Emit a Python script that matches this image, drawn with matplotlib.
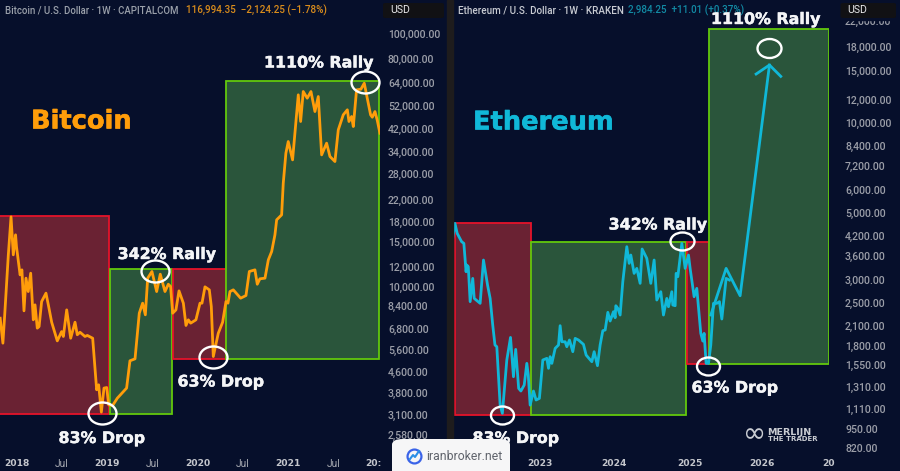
import matplotlib
matplotlib.use("Agg")
import matplotlib.pyplot as plt
import matplotlib.patheffects as pe
from matplotlib.patches import Rectangle, FancyBboxPatch
from matplotlib.path import Path
from matplotlib.transforms import Affine2D

W, H = 900, 471
BG = "#060f2b"
TICK = "#9b9ea8"
FONT = "Roboto"
BOLD = "DejaVu Sans"

btc_years = [2017.82,2017.85,2017.87,2017.91,2017.94,2017.965,2017.99,2018.00,2018.04,2018.06,2018.083,2018.105,2018.13,2018.157,2018.186,2018.205,2018.23,2018.25,2018.278,2018.326,2018.352,2018.389,2018.451,2018.499,2018.518,2018.555,2018.599,2018.647,2018.672,2018.702,2018.757,2018.783,2018.842,2018.886,2018.908,2018.938,2018.967,2018.997,2019.019,2019.063,2019.114,2019.217,2019.254,2019.310,2019.357,2019.394,2019.424,2019.450,2019.497,2019.549,2019.589,2019.641,2019.678,2019.703,2019.726,2019.762,2019.796,2019.844,2019.873,2019.899,2019.925,2019.983,2020.028,2020.05,2020.083,2020.131,2020.153,2020.175,2020.23,2020.278,2020.315,2020.337,2020.359,2020.396,2020.477,2020.536,2020.573,2020.635,2020.661,2020.69,2020.746,2020.783,2020.82,2020.856,2020.875,2020.93,2020.948,2020.977,2021.003,2021.051,2021.114,2021.14,2021.169,2021.213,2021.254,2021.298,2021.335,2021.372,2021.427,2021.464,2021.519,2021.556,2021.611,2021.656,2021.674,2021.703,2021.722,2021.758,2021.806,2021.843,2021.913,2021.932,2021.961,2021.987,2022.016]
btc_prices = [7490,5965,7725,13350,18880,13350,16020,14400,11120,11640,8010,10790,9550,11290,7380,8460,6840,6940,8720,9410,8460,7220,6090,6630,6340,8080,6240,7220,6440,6590,6340,6400,6240,3900,4080,3180,3960,3980,3400,3380,3610,3960,5080,5170,7840,8590,7725,10790,11470,9550,11190,9550,10210,10000,7840,8080,9610,8590,7010,7380,7160,7380,8590,8590,9970,9700,8330,5280,6530,7220,8720,8590,9550,9700,8990,9210,11470,11640,10210,10730,10790,12750,13760,16020,18370,19220,25660,33730,37520,31740,57440,45040,59200,55710,59200,49320,56560,33220,36960,32730,31260,41740,47860,50110,45040,47130,43020,60100,60460,63870,47860,46830,49320,45500,40480]

eth_years = [2021.81,2021.85,2021.88,2021.94,2021.97,2022.00,2022.01,2022.03,2022.055,2022.09,2022.11,2022.19,2022.235,2022.29,2022.325,2022.36,2022.39,2022.415,2022.46,2022.49,2022.55,2022.60,2022.64,2022.67,2022.71,2022.74,2022.785,2022.82,2022.84,2022.865,2022.91,2022.945,2022.99,2023.036,2023.09,2023.113,2023.135,2023.158,2023.203,2023.248,2023.27,2023.293,2023.338,2023.36,2023.396,2023.441,2023.473,2023.518,2023.585,2023.621,2023.698,2023.729,2023.774,2023.81,2023.846,2023.878,2023.914,2023.945,2023.99,2024.013,2024.022,2024.049,2024.08,2024.116,2024.17,2024.202,2024.224,2024.269,2024.305,2024.35,2024.377,2024.44,2024.494,2024.539,2024.575,2024.629,2024.665,2024.71,2024.733,2024.778,2024.791,2024.823,2024.836,2024.859,2024.913,2024.958,2025.003,2025.025,2025.079,2025.115,2025.169,2025.196,2025.214,2025.241,2025.273,2025.304,2025.34,2025.385,2025.421,2025.453,2025.475,2025.511,2025.556]
eth_prices = [3966,4627,4285,4018,3966,3188,3357,3314,2532,3029,2596,2499,3489,2877,2596,2114,1813,1789,1141,1071,1615,1922,1420,1753,1298,1272,1332,1574,1439,1141,1272,1187,1202,1615,1636,1515,1657,1574,1767,1813,2104,1859,1859,1789,1884,1722,1908,1884,1822,1678,1594,1722,1546,1813,2024,2035,2332,2181,2343,2237,2454,2404,2284,2953,3867,3401,3626,3148,3272,2915,3798,3533,2915,3489,2564,2733,2284,2596,2435,2733,2467,2454,3148,3069,3966,3272,3626,3272,2630,2805,1983,1869,1983,1574,1574,1813,2499,2499,2532,2215,2499,3029,2990]
proj_years = [2025.304,2025.511,2025.70,2026.096]
proj_prices = [2284,3272,2650,15670]
arrow_years = [2025.916,2026.096,2026.249]
arrow_prices = [14620,15670,14360]

btc_ticks = [100000,80000,64000,52000,42000,34000,28000,22000,18000,15000,12000,10000,8400,6800,5600,4600,3800,3100,2580]
eth_ticks = [22000,18000,15000,12000,10000,8400,7200,6000,5000,4200,3600,3000,2500,2100,1800,1550,1310,1110,950,820]

btc_boxes = [("r",2017.80,2019.017,3126,19020),("g",2019.03,2019.718,3140,11730),
             ("r",2019.735,2020.31,5162,11730),("g",2020.315,2022.01,5162,65130)]
eth_boxes = [("r",2021.85,2022.874,1054,4627),("g",2022.874,2024.971,1054,4018),
             ("r",2024.98,2025.286,1562,4018),("g",2025.286,2026.90,1562,20630)]

btc_rings = [(2021.85,64500,28,22),(2019.53,11500,28,22),(2018.94,3150,28,22),(2020.17,5250,28,22)]
eth_rings = [(2026.09,17900,24,19),(2022.49,1060,23,18),(2024.915,4030,24,18),(2025.26,1545,23,18)]


def px_rect(x0, y0, x1, y1):
    return [x0 / W, 1 - y1 / H, (x1 - x0) / W, (y1 - y0) / H]


def ftext(x, y, s, **kw):
    kw.setdefault("va", "center")
    kw.setdefault("ha", "left")
    kw.setdefault("family", FONT)
    return fig.text(x / W, 1 - y / H, s, **kw)


def ring(w, h):
    return Path.unit_circle().transformed(Affine2D().scale(1, h / w))


fig = plt.figure(figsize=(W / 100, H / 100), dpi=100, facecolor=BG)

COL = {"r": ("#6a2233", "#e4132a"), "g": ("#2a553b", "#62c80c")}


def panel(rect, xlim, ylim, boxes):
    ax = fig.add_axes(px_rect(*rect))
    ax.set_facecolor(BG)
    ax.set_yscale("log")
    ax.set_xlim(*xlim)
    ax.set_ylim(*ylim)
    ax.axis("off")
    for c, x0, x1, y0, y1 in boxes:
        ax.add_patch(Rectangle((x0, y0), x1 - x0, y1 - y0, facecolor=COL[c][0],
                               edgecolor=COL[c][1], lw=1.3, zorder=1))
    return ax


btc = panel((0, 0, 380, 455), (2017.818, 2022.017), (2151, 136400), btc_boxes)
btc.plot(btc_years, btc_prices, color="#ff9d0a", lw=2.0, zorder=3, solid_joinstyle="round")
eth = panel((452, 0, 829, 455), (2021.81, 2026.90), (777, 25860), eth_boxes)
eth.plot(eth_years, eth_prices, color="#10b8d8", lw=2.0, zorder=3, solid_joinstyle="round")
eth.plot(proj_years, proj_prices, color="#10b8d8", lw=2.0, zorder=3)
eth.plot(arrow_years, arrow_prices, color="#10b8d8", lw=2.0, zorder=3)

for ax, rings in ((btc, btc_rings), (eth, eth_rings)):
    for x, y, w, h in rings:
        ax.plot([x], [y], marker=ring(w, h), ms=w * 0.72, mfc="none", mec="white", mew=1.7,
                zorder=5, clip_on=False)

# price scale labels
for v in btc_ticks:
    y = btc.transData.transform((2018, v))[1]
    ftext(388, H - y + 1, f"{v:,.2f}", color=TICK, fontsize=7.6, weight="medium", zorder=3)
for v in eth_ticks:
    y = eth.transData.transform((2024, v))[1]
    ftext(845, H - y + 1, f"{v:,.2f}", color=TICK, fontsize=7.6, weight="medium", zorder=3)

btc_xlabels = ["2018", "Jul", "2019", "Jul", "2020", "Jul", "2021", "Jul", "20:"]
btc_xpos = [2018.0, 2018.5, 2019.0, 2019.5, 2020.0, 2020.5, 2021.0, 2021.5, 2021.94]
for s, yr in zip(btc_xlabels, btc_xpos):
    x = btc.transData.transform((yr, 5000))[0]
    if s == "Jul":
        ftext(x, 464, s, ha="center", color="#a5a8b0", fontsize=7.4, zorder=3)
    else:
        ftext(x, 464, s, ha="center", color="#c4c6cc", fontsize=6.6, weight="bold", family=BOLD, zorder=3)
eth_xlabels = ["2023", "2024", "2025", "2026", "20"]
eth_xpos = [2023.0, 2024.0, 2025.02, 2026.0, 2026.9]
for s, yr in zip(eth_xlabels, eth_xpos):
    x = eth.transData.transform((yr, 5000))[0]
    ftext(x, 464, s, ha="center", color="#c4c6cc", fontsize=6.6, weight="bold", family=BOLD, zorder=3)

# divider, USD chips
fig.add_artist(Rectangle((447 / W, 0), 5.5 / W, 1, transform=fig.transFigure, color="#1e1c1d", zorder=0.5))
fig.add_artist(Rectangle((835 / W, 1 - 20 / H), 65 / W, 20 / H, transform=fig.transFigure, color=BG, zorder=4))
for x0, x1 in ((383, 444), (840.5, 896)):
    fig.add_artist(FancyBboxPatch((x0 / W, 1 - 18 / H), (x1 - x0) / W, 15 / H,
                                  boxstyle="round,pad=0,rounding_size=0.003", transform=fig.transFigure,
                                  facecolor="#111114", edgecolor="none", zorder=5))
ftext(390.5, 10, "USD", color="#e8e8ea", fontsize=7.6, zorder=6)
ftext(847.5, 10, "USD", color="#e8e8ea", fontsize=7.6, zorder=6)

# header
ftext(5, 10.5, "Bitcoin / U.S. Dollar · 1W · CAPITALCOM", color="#9aa0aa", fontsize=6.95, weight="medium")
ftext(186, 10.5, "116,994.35  −2,124.25 (−1.78%)", color="#d98c1c", fontsize=7.1, weight="medium")
ftext(458, 10.5, "Ethereum / U.S. Dollar · 1W · KRAKEN", color="#c8cbd2", fontsize=7.1, weight="medium")
ftext(628.5, 10.5, "2,984.25  +11.01 (+0.37%)", color="#128aa4", fontsize=7.1, weight="medium")

# big labels
for x, y, s, c in [(31, 121.5, "Bitcoin", "#ff9d0a"), (473, 122.5, "Ethereum", "#10b8d8")]:
    ftext(x, y, s, color=c, fontsize=18.5, weight="bold", family=BOLD,
          path_effects=[pe.withStroke(linewidth=0.4, foreground=c)])
for x, y, s in [(319, 63, "1110% Rally"), (167, 254.5, "342% Rally"), (102, 438.5, "83% Drop"),
                (221, 382, "63% Drop"), (766, 19.5, "1110% Rally"), (658, 225, "342% Rally"),
                (516, 438.5, "83% Drop"), (735, 388, "63% Drop")]:
    ftext(x, y, s, ha="center", color="#f4f5f7", fontsize=11.4, weight="bold", family=BOLD, zorder=6,
          path_effects=[pe.withStroke(linewidth=0.3, foreground="#f4f5f7")])

# Merlijn mark
ftext(767.5, 432.8, "MERLIJN", color="#c9ccd2", fontsize=6.8, weight="bold", family=BOLD, zorder=3)
ftext(767.5, 438.8, "THE TRADER", color="#c9ccd2", fontsize=5.0, weight="bold", family=BOLD, zorder=3)
ftext(755, 434.5, "∞", color="#c9ccd2", fontsize=20, ha="center", family=BOLD, zorder=3)

# iranbroker watermark
fig.add_artist(FancyBboxPatch((392 / W, -8 / H), 118 / W, 40 / H,
                              boxstyle="round,pad=0,rounding_size=0.012",
                              transform=fig.transFigure, facecolor="#f6f6f7", edgecolor="none", zorder=7))
fig.add_artist(plt.Line2D([414 / W], [1 - 456 / H], marker="o", ms=10, mfc="none", mec="#3a63e8", mew=1.6,
                          transform=fig.transFigure, zorder=8))
fig.add_artist(plt.Line2D([410 / W, 413 / W, 415 / W, 419 / W], [1 - 459 / H, 1 - 455 / H, 1 - 457 / H, 1 - 451 / H],
                          color="#2a8fe6", lw=1.5, transform=fig.transFigure, zorder=9))
ftext(426, 456, "iranbroker.net", color="#60646c", fontsize=8.8, zorder=8)

fig.savefig("out.png", dpi=100, facecolor=BG)
